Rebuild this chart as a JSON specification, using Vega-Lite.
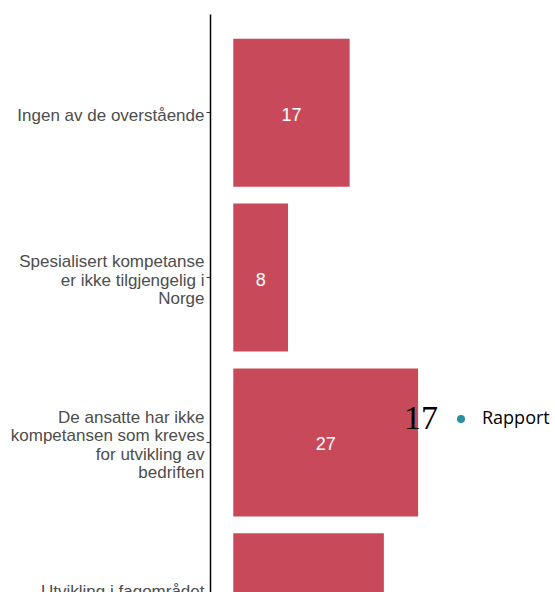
{
  "$schema": "https://vega.github.io/schema/vega-lite/v6.json",
  "autosize": {"type": "none"},
  "padding": {"left": 210, "top": 14, "right": 0, "bottom": 0},
  "width": 345,
  "height": 692,
  "background": "white",
  "config": {"view": {"stroke": null}},
  "data": {
    "values": [
      {"kategori": "Ingen av de overstående", "verdi": 17, "serie": "Rapport"},
      {"kategori": "Spesialisert kompetanse|er ikke tilgjengelig i|Norge", "verdi": 8, "serie": "Rapport"},
      {"kategori": "De ansatte har ikke|kompetansen som kreves|for utvikling av|bedriften", "verdi": 27, "serie": "Rapport"},
      {"kategori": "Utvikling i fagområdet|går for raskt til å|holde tritt", "verdi": 22, "serie": "Rapport"}
    ]
  },
  "encoding": {
    "y": {
      "field": "kategori",
      "type": "nominal",
      "sort": null,
      "scale": {"paddingInner": 0.103, "paddingOuter": 0.15},
      "axis": {
        "title": null,
        "labelExpr": "split(datum.label, '|')",
        "labelFont": "Liberation Sans",
        "labelFontSize": 17,
        "labelColor": "#4d4d4d",
        "labelLineHeight": 18.3,
        "labelLimit": 300,
        "labelPadding": 2,
        "labelOffset": {
          "condition": [
            {"test": "length(split(datum.value, '|')) == 4", "value": -24.5},
            {"test": "length(split(datum.value, '|')) == 3", "value": -15.3}
          ],
          "value": 3
        },
        "domainColor": "black",
        "domainWidth": 1.5,
        "tickColor": "#333333",
        "tickSize": 4,
        "tickWidth": 1,
        "grid": false
      }
    },
    "x": {"field": "verdi", "type": "quantitative", "scale": {"domain": [-3.4, 47], "nice": false, "zero": false}, "axis": null}
  },
  "layer": [
    {
      "mark": {"type": "bar", "color": "#c84a5a"}
    },
    {
      "mark": {"type": "point", "filled": true, "shape": "circle", "opacity": 0},
      "encoding": {
        "fill": {
          "field": "serie",
          "type": "nominal",
          "scale": {"range": ["#2b8fa3"]},
          "legend": {
            "orient": "none",
            "legendX": 194,
            "legendY": 396,
            "title": "17",
            "titleOrient": "left",
            "titleFont": "Liberation Serif",
            "titleFontSize": 34,
            "titleFontWeight": "normal",
            "titleColor": "black",
            "titlePadding": 14,
            "symbolType": "circle",
            "symbolSize": 64,
            "symbolStrokeWidth": 0,
            "symbolOpacity": 1,
            "labelFont": "Open Sans",
            "labelFontSize": 18,
            "labelColor": "black",
            "labelOffset": 12
          }
        }
      }
    },
    {
      "transform": [{"calculate": "datum.verdi / 2", "as": "midt"}],
      "mark": {"type": "text", "color": "white", "font": "Liberation Sans", "fontSize": 18, "baseline": "middle", "align": "center", "dy": 3},
      "encoding": {
        "x": {"field": "midt", "type": "quantitative"},
        "text": {"field": "verdi", "type": "quantitative"}
      }
    }
  ]
}
